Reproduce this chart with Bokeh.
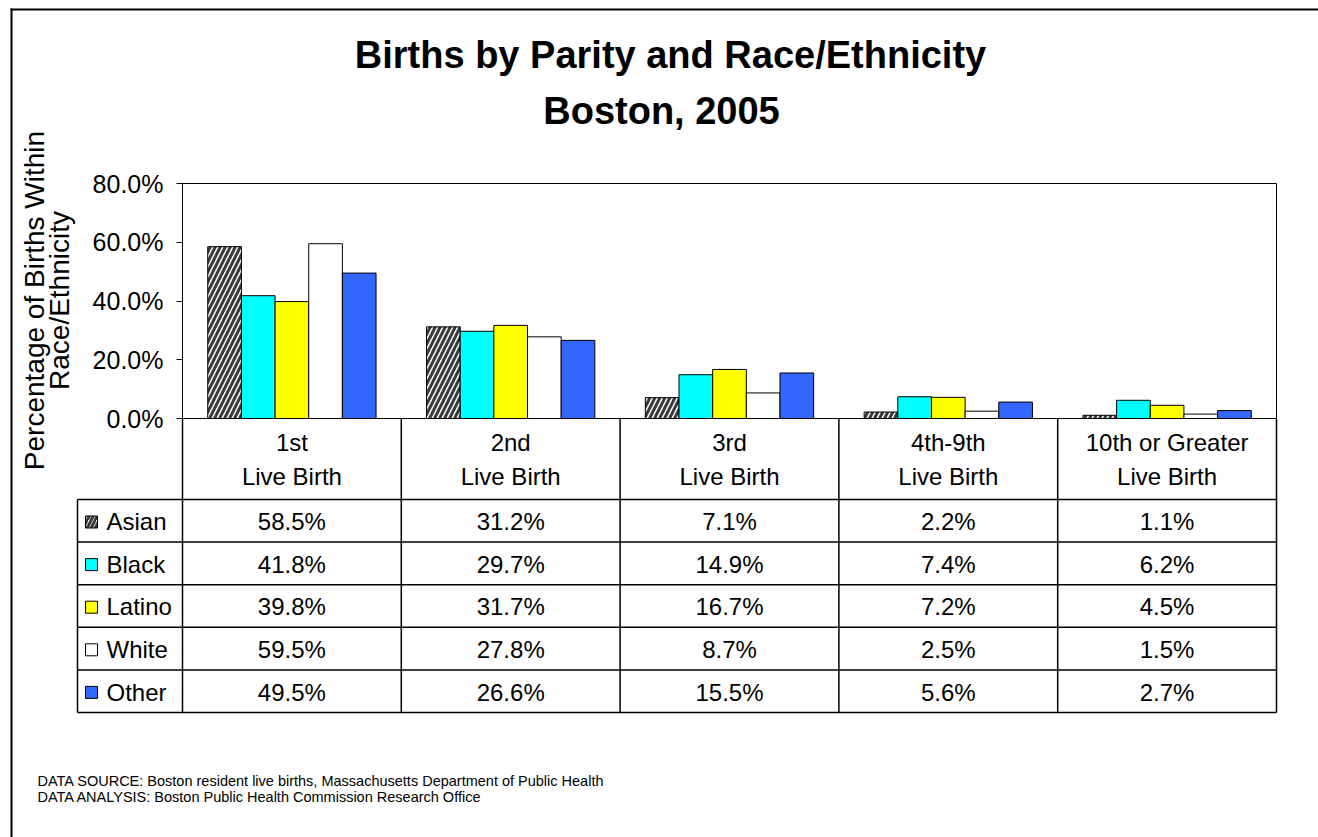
import math
from bokeh.plotting import figure
from bokeh.models import Range1d, LinearAxis, FixedTicker, PrintfTickFormatter, ColumnDataSource
from bokeh.transform import dodge
from bokeh.core.properties import value
from bokeh.embed import file_html
from bokeh.resources import INLINE

# ---------------- data ----------------
title_line1 = "Births by Parity and Race/Ethnicity"
title_line2 = "Boston, 2005"
y_label_lines = ["Percentage of Births Within", "Race/Ethnicity"]
parity = ["1st", "2nd", "3rd", "4th-9th", "10th or Greater"]
parity_sub = "Live Birth"
races = ["Asian", "Black", "Latino", "White", "Other"]
asian = [58.5, 31.2, 7.1, 2.2, 1.1]
black = [41.8, 29.7, 14.9, 7.4, 6.2]
latino = [39.8, 31.7, 16.7, 7.2, 4.5]
white = [59.5, 27.8, 8.7, 2.5, 1.5]
other = [49.5, 26.6, 15.5, 5.6, 2.7]
y_ticks = [0, 20, 40, 60, 80]
notes = [
    "DATA SOURCE:  Boston resident live births,  Massachusetts Department of Public Health",
    "DATA ANALYSIS:  Boston Public Health Commission Research Office",
]

series = [asian, black, latino, white, other]
colors = ["#FFFFFF", "#00FFFF", "#FFFF00", "#FFFFFF", "#3366FF"]

# ---------------- layout (page pixels) ----------------
FONT = value("Liberation Sans")
W, H = 1318, 837
PX0, PY0 = 0, 0
PLOT_L, PLOT_R, PLOT_T, PLOT_B = 182, 1276, 183, 418
n = len(parity)
COLW = (PLOT_R - PLOT_L) / n
YMAX = 80
pxpp = (PLOT_B - PLOT_T) / YMAX
BK = 0.37  # baseline correction (fraction of font size)


def bl(y, fs):
    return y - BK * fs


x_range = Range1d(-0.5 - (PLOT_L - PX0) / COLW, n - 0.5 + (PX0 + W - PLOT_R) / COLW)
y_range = Range1d(-(PY0 + H - PLOT_B) / pxpp, (PLOT_B - PY0) / pxpp)

p = figure(width=W, height=H, x_range=x_range, y_range=y_range,
           x_axis_location=None, y_axis_location=None, min_border=0,
           toolbar_location=None, output_backend="svg",
           outline_line_color=None, background_fill_color="white",
           border_fill_color="white")
for g in p.grid:
    g.visible = False
p.extra_x_ranges = {"px": Range1d(PX0, PX0 + W)}
p.extra_y_ranges = {"px": Range1d(PY0 + H, PY0)}

# ---------------- bars ----------------
src = ColumnDataSource(dict(x=list(range(n)), **{r: s for r, s in zip(races, series)}))
BW = 1 / 6.5
for j, r in enumerate(races):
    kw = {}
    if r == "Asian":
        kw = dict(hatch_pattern="right_diagonal_line", hatch_color="#3a3a3a",
                  hatch_weight=3, hatch_scale=10)
    p.vbar(x=dodge("x", (j - 2) * BW, range=p.x_range), top=r, bottom=0, width=BW,
           source=src, fill_color=colors[j], line_color="black", line_width=1, **kw)

# plot area outline
p.quad(left=[PLOT_L], right=[PLOT_R], top=[PLOT_T], bottom=[PLOT_B],
       fill_color=None, line_color="black", line_width=1,
       x_range_name="px", y_range_name="px")

# y axis at the plot-area edge
yax = LinearAxis(fixed_location=-0.5, bounds=(0, YMAX),
                 ticker=FixedTicker(ticks=y_ticks),
                 formatter=PrintfTickFormatter(format="%.1f%%"))
yax.axis_line_color = "black"
yax.axis_line_width = 1
yax.major_tick_out = 6
yax.major_tick_in = 0
yax.minor_tick_out = 0
yax.minor_tick_in = 0
yax.major_tick_line_color = "black"
yax.major_label_text_font = "Liberation Sans"
yax.major_label_text_font_size = "25px"
yax.major_label_text_color = "black"
yax.major_label_standoff = 13
p.add_layout(yax, "left")

# y axis title (rotated)
p.text(x=[bl(44, 28), bl(69, 28)], y=[300, 300], text=y_label_lines, angle=math.pi / 2,
       text_align="center", text_baseline="alphabetic", text_font=FONT,
       text_font_size=value("28px"), text_color="black",
       x_range_name="px", y_range_name="px")

# title
p.text(x=[670, 661], y=[bl(69, 38), bl(125, 38)], text=[title_line1, title_line2],
       text_align="center", text_baseline="alphabetic", text_font=FONT,
       text_font_size=value("38px"), text_font_style="bold", text_color="black",
       x_range_name="px", y_range_name="px")

# ---------------- data table ----------------
HDR_B = 499
ROWH = 42.6
TAB_L = 77
row_tops = [HDR_B + k * ROWH for k in range(len(races))]
TAB_B = HDR_B + len(races) * ROWH

# vertical column lines (category scale for x)
col_edges = [i - 0.5 for i in range(n + 1)]
p.segment(x0=col_edges, y0=[PLOT_B] * len(col_edges), x1=col_edges, y1=[TAB_B] * len(col_edges),
          line_color="black", line_width=1.5, y_range_name="px")
# horizontal row lines
hys = [HDR_B + k * ROWH for k in range(len(races) + 1)]
p.segment(x0=[TAB_L] * len(hys), y0=hys, x1=[PLOT_R] * len(hys), y1=hys,
          line_color="black", line_width=1.5, x_range_name="px", y_range_name="px")
# left edge of legend column
p.segment(x0=[TAB_L], y0=[HDR_B], x1=[TAB_L], y1=[TAB_B],
          line_color="black", line_width=1.5, x_range_name="px", y_range_name="px")

# header labels
p.text(x=list(range(n)), y=[bl(451, 24)] * n, text=parity, text_align="center",
       text_baseline="alphabetic", text_font=FONT, text_font_size=value("24px"),
       text_color="black", y_range_name="px")
p.text(x=list(range(n)), y=[bl(485, 24)] * n, text=[parity_sub] * n, text_align="center",
       text_baseline="alphabetic", text_font=FONT, text_font_size=value("24px"),
       text_color="black", y_range_name="px")

# cell values
cx, cy, ct = [], [], []
for j, s in enumerate(series):
    for i, v in enumerate(s):
        cx.append(i)
        cy.append(bl(row_tops[j] + 31, 24))
        ct.append(f"{v:.1f}%")
p.text(x=cx, y=cy, text=ct, text_align="center", text_baseline="alphabetic",
       text_font=FONT, text_font_size=value("24px"), text_color="black",
       y_range_name="px")

# legend column: swatches + labels
for j, r in enumerate(races):
    kw = {}
    if r == "Asian":
        kw = dict(hatch_pattern="right_diagonal_line", hatch_color="#3a3a3a",
                  hatch_weight=3, hatch_scale=8)
    top = row_tops[j] + 16.5
    p.quad(left=[85], right=[97], top=[top], bottom=[top + 12],
           fill_color=colors[j], line_color="black", line_width=1,
           x_range_name="px", y_range_name="px", **kw)
p.text(x=[106] * len(races), y=[bl(t + 31, 24) for t in row_tops], text=races,
       text_align="left", text_baseline="alphabetic", text_font=FONT,
       text_font_size=value("24px"), text_color="black",
       x_range_name="px", y_range_name="px")

# footnotes
p.text(x=[37, 37], y=[bl(786, 14.5), bl(802, 14.5)], text=notes, text_align="left",
       text_baseline="alphabetic", text_font=FONT, text_font_size=value("14.5px"),
       text_color="black", x_range_name="px", y_range_name="px")

# page frame (top and left edges)
p.segment(x0=[11, 10], y0=[8, 9], x1=[11, PX0 + W], y1=[PY0 + H, 9],
          line_color="black", line_width=2, x_range_name="px", y_range_name="px")

open("out.html", "w").write(file_html(p, INLINE))
